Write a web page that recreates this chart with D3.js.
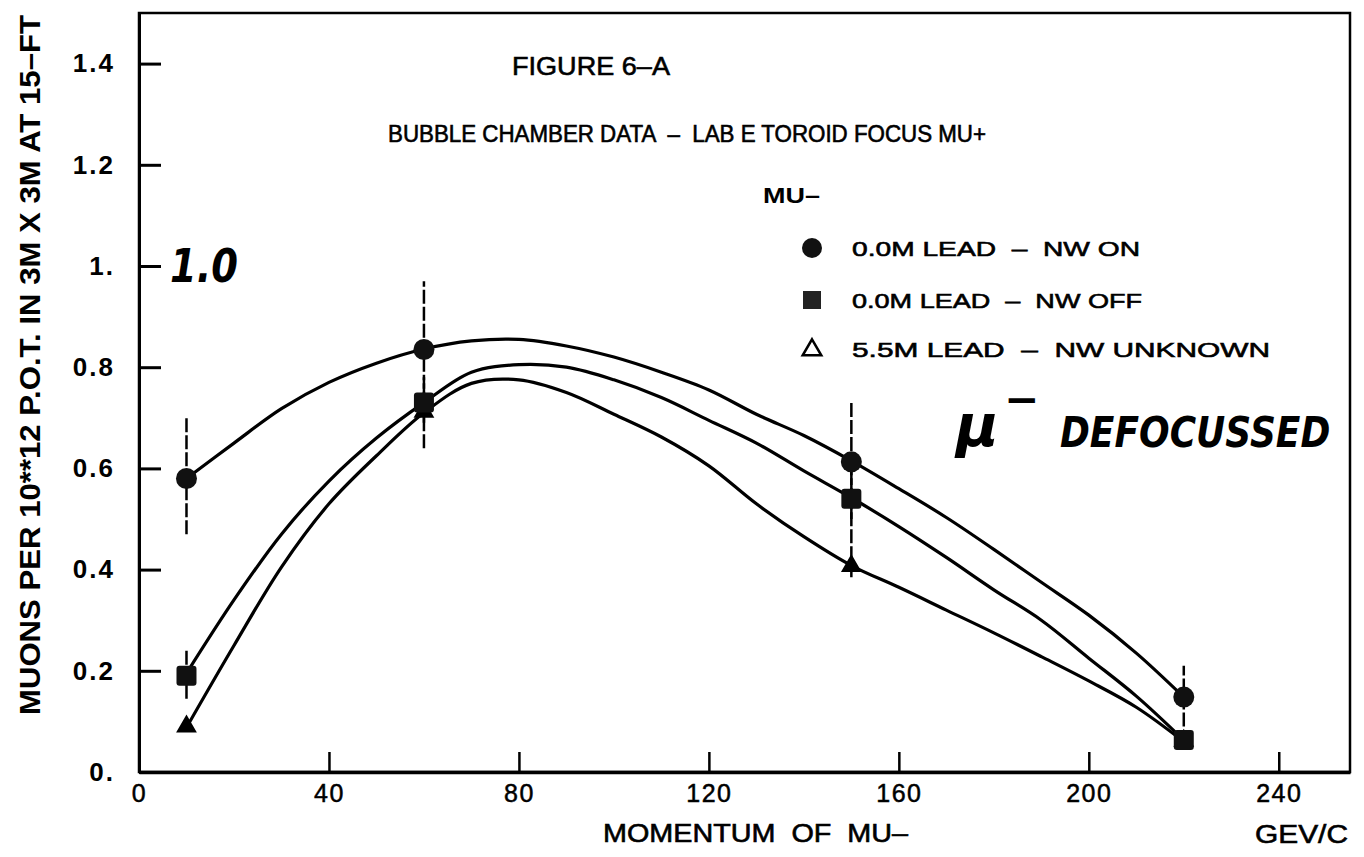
<!DOCTYPE html>
<html>
<head>
<meta charset="utf-8">
<script src="https://cdn.jsdelivr.net/npm/d3@7"></script>
<style>
  html, body { margin: 0; padding: 0; background: #fff; }
  svg { display: block; }
</style>
</head>
<body>
<svg id="chart" width="1364" height="857"></svg>
<script>
// ---------- data ----------
const xTickValues = [0, 40, 80, 120, 160, 200, 240];
const xTickLabels = ["0", "40", "80", "120", "160", "200", "240"];
const yTickValues = [0, 0.2, 0.4, 0.6, 0.8, 1.0, 1.2, 1.4];
const yTickLabels = ["0.", "0.2", "0.4", "0.6", "0.8", "1.", "1.2", "1.4"];

const momentum = [10, 60, 150, 220];
const nwOnValues = [0.58, 0.835, 0.613, 0.148];        // circles
const nwOffValues = [0.19, 0.73, 0.54, 0.063];        // squares
const unknownValues = [0.088, 0.71, 0.405, 0.06];     // triangles

const nwOnErrLow = [0.47, 0.69, 0.50, 0.09];
const nwOnErrHigh = [0.70, 0.97, 0.73, 0.21];
const nwOffErrLow = [0.145, 0.64, 0.385, null];
const nwOffErrHigh = [0.24, 0.78, 0.62, null];

// hand-drawn smooth curves
const curveX = [10, 20, 30, 40, 50, 60, 70, 80, 90, 100, 110, 120, 130, 140, 150, 160, 170, 180, 190, 200, 210, 220];
const nwOnCurve = [0.58, 0.65, 0.718, 0.77, 0.808, 0.836, 0.852, 0.855, 0.842, 0.82, 0.79, 0.755, 0.707, 0.665, 0.615, 0.56, 0.503, 0.44, 0.375, 0.31, 0.235, 0.148];
const nwOffCurve = [0.195, 0.34, 0.47, 0.575, 0.66, 0.73, 0.79, 0.805, 0.80, 0.775, 0.74, 0.695, 0.65, 0.595, 0.542, 0.485, 0.424, 0.36, 0.30, 0.225, 0.15, 0.063];
const unknownCurve = [0.088, 0.25, 0.405, 0.53, 0.625, 0.71, 0.768, 0.775, 0.75, 0.707, 0.662, 0.605, 0.53, 0.465, 0.408, 0.365, 0.32, 0.275, 0.228, 0.18, 0.128, 0.06];

const legendLabels = ["0.0M LEAD  \u2013  NW ON", "0.0M LEAD  \u2013  NW OFF", "5.5M LEAD  \u2013  NW UNKNOWN"];

// ---------- drawing ----------
const svg = d3.select("#chart");
const FONT = "'Liberation Sans', Arial, sans-serif";
const HAND = "'DejaVu Sans', sans-serif";

const x = d3.scaleLinear().domain([0, 255]).range([139, 1350]);
const y = d3.scaleLinear().domain([0, 1.5]).range([772, 13]);

// frame
svg.append("rect")
  .attr("x", x(0)).attr("y", y(1.5))
  .attr("width", x(255) - x(0)).attr("height", y(0) - y(1.5))
  .attr("fill", "none").attr("stroke", "#000").attr("stroke-width", 2.5);

// x axis
const xAxis = d3.axisBottom(x)
  .tickValues(xTickValues)
  .tickFormat((d, i) => xTickLabels[i])
  .tickSizeInner(-20).tickSizeOuter(0).tickPadding(12);
const gx = svg.append("g").attr("transform", `translate(0,${y(0)})`).call(xAxis);
gx.select(".domain").attr("stroke-width", 3.5);
gx.selectAll(".tick line").attr("stroke-width", 2.5);
gx.selectAll(".tick text").attr("font-family", FONT).attr("font-size", 25)
  .attr("letter-spacing", 1.5).attr("fill", "#000")
  .attr("stroke", "#000").attr("stroke-width", 0.5);

// y axis
const yAxis = d3.axisLeft(y)
  .tickValues(yTickValues)
  .tickFormat((d, i) => yTickLabels[i])
  .tickSizeInner(-22).tickSizeOuter(0).tickPadding(24);
const gy = svg.append("g").attr("transform", `translate(${x(0)},0)`).call(yAxis);
gy.select(".domain").attr("stroke-width", 3);
gy.selectAll(".tick line").attr("stroke-width", 3);
gy.selectAll(".tick text").attr("font-family", FONT).attr("font-size", 26)
  .attr("font-weight", "bold").attr("letter-spacing", 2).attr("fill", "#000");

// curves
const line = d3.line().x(d => x(d[0])).y(d => y(d[1])).curve(d3.curveCatmullRom.alpha(0.5));
[nwOnCurve, nwOffCurve, unknownCurve].forEach(vals => {
  svg.append("path")
    .datum(curveX.map((cx, i) => [cx, vals[i]]))
    .attr("d", line)
    .attr("fill", "none").attr("stroke", "#000").attr("stroke-width", 3.2);
});

// error bars
function errBars(lo, hi) {
  momentum.forEach((m, i) => {
    if (lo[i] == null) return;
    svg.append("line")
      .attr("x1", x(m)).attr("x2", x(m))
      .attr("y1", y(lo[i])).attr("y2", y(hi[i]))
      .attr("stroke", "#000").attr("stroke-width", 2.5)
      .attr("stroke-dasharray", "14,3");
  });
}
errBars(nwOnErrLow, nwOnErrHigh);
errBars(nwOffErrLow, nwOffErrHigh);

// markers
const tri = d3.symbol().type(d3.symbolTriangle).size(130);
momentum.forEach((m, i) => {
  svg.append("path").attr("d", tri)
    .attr("transform", `translate(${x(m)},${y(unknownValues[i]) - 1})`)
    .attr("fill", "#000").attr("stroke", "#000").attr("stroke-width", 2);
});
momentum.forEach((m, i) => {
  svg.append("rect")
    .attr("x", x(m) - 10).attr("y", y(nwOffValues[i]) - 10)
    .attr("width", 20).attr("height", 20).attr("rx", 3)
    .attr("fill", "#111");
});
momentum.forEach((m, i) => {
  svg.append("circle")
    .attr("cx", x(m)).attr("cy", y(nwOnValues[i])).attr("r", 10.5)
    .attr("fill", "#111");
});

// titles
const T = (sel) => sel.attr("fill", "#000").attr("stroke", "#000").attr("stroke-width", 0.6);
T(svg.append("text").attr("x", 512).attr("y", 75).text("FIGURE 6\u2013A")
  .attr("font-family", FONT).attr("font-size", 26).attr("textLength", 158)
  .attr("lengthAdjust", "spacingAndGlyphs"));
T(svg.append("text").attr("x", 388).attr("y", 142)
  .text("BUBBLE CHAMBER DATA  \u2013  LAB E TOROID FOCUS MU+")
  .attr("font-family", FONT).attr("font-size", 23).attr("textLength", 598)
  .attr("lengthAdjust", "spacingAndGlyphs").style("white-space", "pre"));
svg.append("text").attr("x", 763).attr("y", 203).text("MU\u2013")
  .attr("font-family", FONT).attr("font-size", 22).attr("font-weight", "bold")
  .attr("textLength", 57).attr("lengthAdjust", "spacingAndGlyphs");

// legend
const legendY = [248, 300, 349];
const legendLen = [288, 290, 418];
svg.append("circle").attr("cx", 812).attr("cy", legendY[0]).attr("r", 10).attr("fill", "#111");
svg.append("rect").attr("x", 803).attr("y", legendY[1] - 9).attr("width", 18).attr("height", 18).attr("fill", "#222");
svg.append("path").attr("d", d3.symbol().type(d3.symbolTriangle).size(150))
  .attr("transform", `translate(812,${legendY[2] + 1})`)
  .attr("fill", "none").attr("stroke", "#000").attr("stroke-width", 2.5);
legendLabels.forEach((t, i) => {
  T(svg.append("text").attr("x", 852).attr("y", legendY[i] + 8).text(t)
    .attr("font-family", FONT).attr("font-size", 21)
    .attr("textLength", legendLen[i]).attr("lengthAdjust", "spacingAndGlyphs")
    .style("white-space", "pre"));
});

// axis titles
T(svg.append("text").attr("x", 603).attr("y", 842).text("MOMENTUM  OF  MU\u2013")
  .attr("font-family", FONT).attr("font-size", 25).attr("textLength", 305)
  .attr("lengthAdjust", "spacingAndGlyphs").style("white-space", "pre"));
T(svg.append("text").attr("x", 1255).attr("y", 843).text("GEV/C")
  .attr("font-family", FONT).attr("font-size", 25).attr("textLength", 93)
  .attr("lengthAdjust", "spacingAndGlyphs"));
svg.append("text").attr("transform", "translate(40,365) rotate(-90)")
  .attr("text-anchor", "middle")
  .text("MUONS PER 10**12 P.O.T. IN 3M X 3M AT 15\u2013FT")
  .attr("font-family", FONT).attr("font-size", 30).attr("font-weight", "bold")
  .attr("textLength", 700).attr("lengthAdjust", "spacingAndGlyphs");

// handwritten notes
svg.append("text").attr("x", 170).attr("y", 282).text("1.0")
  .attr("font-family", HAND).attr("font-size", 46).attr("font-weight", "bold")
  .attr("font-style", "italic").attr("textLength", 68).attr("lengthAdjust", "spacingAndGlyphs");
svg.append("text").attr("x", 956).attr("y", 446).text("\u03bc")
  .attr("font-family", HAND).attr("font-size", 58).attr("font-weight", "bold")
  .attr("font-style", "italic");
svg.append("text").attr("x", 1004).attr("y", 414).text("\u2212")
  .attr("font-family", HAND).attr("font-size", 42).attr("font-weight", "bold");
svg.append("text").attr("transform", "translate(1060,447) scale(1,1.2)").text("DEFOCUSSED")
  .attr("font-family", HAND).attr("font-size", 36).attr("font-weight", "bold")
  .attr("font-style", "italic");
</script>
</body>
</html>
